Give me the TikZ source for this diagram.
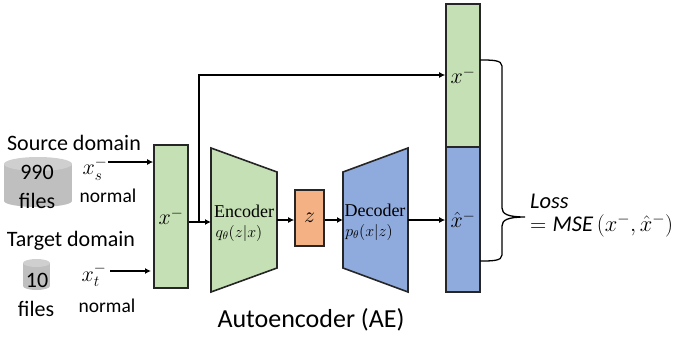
\documentclass[tikz,border=0pt]{standalone}
\usepackage{fix-cm}
\usepackage{amsmath,amssymb}
\usepackage{fontspec}
\setmainfont{Carlito}
\newfontfamily\serifface{Liberation Serif}
\usepackage{tikz}
\usetikzlibrary{arrows.meta, positioning}
\definecolor{boxgreen}{HTML}{C5E0B4}
\definecolor{boxblue}{HTML}{8FAADC}
\definecolor{boxorange}{HTML}{F4B183}
\definecolor{cylbody}{HTML}{BFBFBF}
\definecolor{cyltop}{HTML}{CFCFCF}
\tikzset{
  block/.style={draw=black!85, line width=1.6pt, inner sep=0pt},
  arrow/.style={draw=black, line width=1.3pt, -{Latex[length=6pt,width=6pt]}},
  label/.style={font=\fontsize{22}{24}\selectfont, inner sep=0pt},
  small/.style={font=\fontsize{19.5}{22}\selectfont, inner sep=0pt},
  symb/.style={font=\fontsize{22}{24}\selectfont, inner sep=0pt},
  losstyle/.style={font=\fontsize{22.5}{24}\selectfont, inner sep=0pt},
  netname/.style={font=\fontsize{18}{20}\serifface, inner sep=0pt},
  netformula/.style={font=\fontsize{16}{18}\serifface, inner sep=0pt}
}
\begin{document}
\begin{tikzpicture}[x=1pt, y=-1pt]
  \useasboundingbox (0,0) rectangle (675,338);

  % data stores
  \fill[cylbody] (4,164) rectangle (72,201);
  \fill[cylbody] (38,201) ellipse [x radius=34, y radius=6];
  \fill[cyltop] (38,164) ellipse [x radius=34, y radius=7];
  \fill[cylbody] (23,263) rectangle (50,286);
  \fill[cylbody] (36.5,286) ellipse [x radius=13.5, y radius=4];
  \fill[cyltop] (36.5,263) ellipse [x radius=13.5, y radius=4];
  \node[label] (sourcetitle) at (74,143) {Source domain};
  \node[label] (targettitle) at (71,241) {Target domain};
  \node[label] (sourcecount) at (37,172) {990};
  \node[label] (sourcefiles) at (37,201) {files};
  \node[label] (targetcount) at (37,280) {10};
  \node[label] (targetfiles) at (36,309) {files};
  \node[symb] (sourcesym) at (95,169) {$x_s^-$};
  \node[symb] (targetsym) at (94,275) {$x_t^-$};
  \node[small] (sourcenormal) at (108,196) {normal};
  \node[small] (targetnormal) at (107,306) {normal};

  % blocks
  \node[block, fill=boxgreen, minimum width=34pt, minimum height=143pt, symb] (input) at (171,216.5) {$x^-$};
  \draw[block, fill=boxgreen] (211,148) -- (277,172) -- (277,268) -- (211,292) -- cycle;
  \draw[block, fill=boxblue] (343,172) -- (408,148) -- (408,292) -- (343,268) -- cycle;
  \node[block, fill=boxorange, minimum width=29pt, minimum height=56pt, symb] (latent) at (309.5,218) {$z$};
  \node[block, fill=boxgreen, minimum width=34pt, minimum height=143pt, symb] (target2) at (463,75.5) {$x^-$};
  \node[block, fill=boxblue, minimum width=34pt, minimum height=145pt, symb] (recon) at (463,219.5) {$\hat{x}^-$};

  \node[netname] (enctext) at (244,211) {Encoder};
  \node[netformula] (encformula) at (239,233) {$q_\theta(z|x)$};
  \node[netname] (dectext) at (375,210) {Decoder};
  \node[netformula] (decformula) at (369,232) {$p_\theta(x|z)$};

  % connectors
  \coordinate (encin) at (211,222);
  \coordinate (encout) at (277,220);
  \coordinate (decin) at (343,220);
  \coordinate (decout) at (408,220);
  \coordinate (branch) at (199,222);
  \draw[arrow] (108,162) -- (input.west |- 0,162);
  \draw[arrow] (110,271) -- (151,271);
  \draw[arrow] (input.east |- encin) -- (encin);
  \draw[arrow] (encout) -- (latent.west |- encout);
  \draw[arrow] (latent.east |- decin) -- (decin);
  \draw[arrow] (decout) -- (recon.west |- decout);
  \draw[arrow] (branch) -- (199,75) -- (target2.west |- 0,75);

  % brace
  \draw[line width=1.3pt] (480,60) .. controls (492,60) and (502,60) .. (502,66) -- (502,208)
    .. controls (502,214) and (508,217) .. (525,217)
    .. controls (508,217) and (502,220) .. (502,226) -- (502,255)
    .. controls (502,261) and (492,261) .. (480,261);

  \node[losstyle, anchor=west] (losstext) at (530,201) {$\mathit{Loss}$};
  \node[losstyle, anchor=west] (lossformula) at (530,226) {$=\mathit{MSE}\,(x^-,\hat{x}^-)$};
  \node[font=\fontsize{26}{28}\selectfont, inner sep=0pt] (title) at (311,320) {Autoencoder (AE)};
\end{tikzpicture}
\end{document}
